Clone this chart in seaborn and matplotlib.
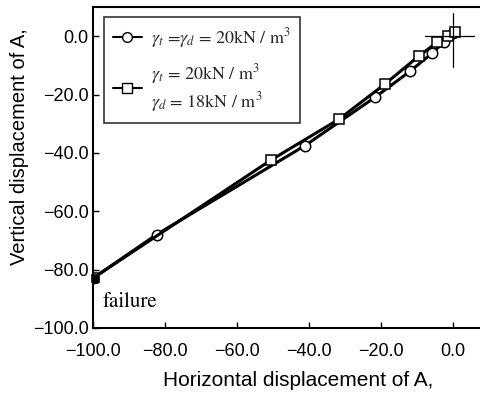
import matplotlib
matplotlib.use("Agg")
import matplotlib.pyplot as plt
import seaborn as sns
import pandas as pd
from matplotlib.lines import Line2D

# data
circ_x = [-100.0, -82.3, -41.1, -21.5, -11.8, -5.9, -2.5, 0.0]
circ_y = [-83.0, -68.0, -37.5, -20.8, -11.9, -5.9, -2.0, 1.0]
sq_x = [-100.0, -50.6, -31.6, -18.9, -9.4, -4.3, -1.5, 0.5]
sq_y = [-83.0, -42.5, -28.4, -16.4, -6.7, -2.0, 0.0, 1.5]
fail_x = [-99.3]
fail_y = [-83.0]
xticks = [-100, -80, -60, -40, -20, 0]
yticks = [0, -20, -40, -60, -80, -100]
label_a = r"$\gamma_t$ =$\gamma_d$ = 20kN / m$^3$"
label_b = "$\\gamma_t$ = 20kN / m$^3$\n$\\gamma_d$ = 18kN / m$^3$"

sns.set_theme(style="white")
plt.rcParams["font.family"] = ["Liberation Sans", "DejaVu Sans"]
plt.rcParams["mathtext.fontset"] = "stix"

df = pd.DataFrame({
    "x": circ_x + sq_x,
    "y": circ_y + sq_y,
    "series": ["a"] * len(circ_x) + ["b"] * len(sq_x),
})

fig = plt.figure(figsize=(4.81, 3.96), dpi=100)
ax = fig.add_axes([0.193, 0.172, 0.807, 0.810])

sns.lineplot(data=df, x="x", y="y", style="series", markers={"a": "o", "b": "s"},
             dashes=False, color="black", sort=False, estimator=None, ax=ax,
             linewidth=2.2, markersize=7.5, markerfacecolor="white",
             markeredgecolor="black", markeredgewidth=1.1, legend=False)
sns.scatterplot(x=fail_x, y=fail_y, marker="s", color="black", s=30, ax=ax,
                edgecolor="black", zorder=5, clip_on=False)

# crosshair at origin
ax.plot([0, 0], [8, -10.6], color="black", lw=0.9)
ax.plot([-7.8, 5.8], [0, 0], color="black", lw=0.9)

ax.set_xlim(-100, 7.8)
ax.set_ylim(-100, 10)
ax.set_xticks(xticks)
ax.set_yticks(yticks)
ax.set_xticklabels([f"{v:.1f}".replace("-", "\u2212") for v in xticks], fontsize=13)
ax.set_yticklabels([f"{v:.1f}".replace("-", "\u2212") for v in yticks], fontsize=13)
ax.tick_params(direction="in", length=4, width=1, color="black", labelcolor="black",
               bottom=True, left=True)
ax.tick_params(axis="x", pad=11)
ax.tick_params(axis="y", pad=3)
for s in ["left", "bottom", "top"]:
    ax.spines[s].set_color("black")
    ax.spines[s].set_linewidth(1.5)
ax.spines["right"].set_visible(False)
ax.set_xlabel("Horizontal displacement of A,", fontsize=15, color="black", labelpad=2)
ax.set_ylabel("Vertical displacement of A,", fontsize=14.5, color="black")
ax.xaxis.set_label_coords(0.528, -0.135)
ax.yaxis.set_label_coords(-0.165, 0.565)

ax.text(-97.2, -91, "failure", family="STIXGeneral", fontsize=15, color="black",
        va="center", ha="left")

handles = [
    Line2D([], [], color="black", lw=1.5, marker="o", markersize=7,
           markerfacecolor="white", markeredgecolor="black"),
    Line2D([], [], color="black", lw=1.5, marker="s", markersize=7,
           markerfacecolor="white", markeredgecolor="black"),
]
leg = ax.legend(handles, [label_a, label_b], loc="upper left",
                bbox_to_anchor=(0.028, 0.97), frameon=True, fancybox=False,
                edgecolor="black", handlelength=1.6,
                handletextpad=0.5, labelspacing=0.7, borderpad=0.5,
                borderaxespad=0.0,
                prop={"family": "STIXGeneral", "size": 13})
leg.get_frame().set_linewidth(1.2)

fig.savefig("out.png", dpi=100)
